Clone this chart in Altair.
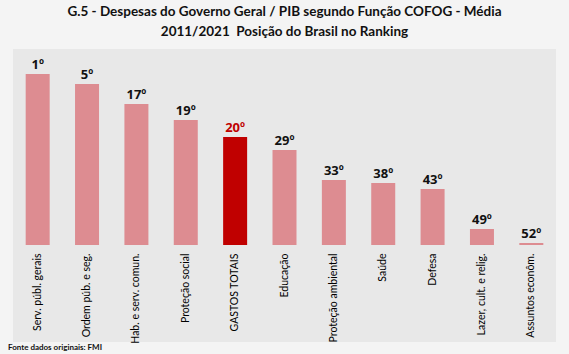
import altair as alt
import pandas as pd

categories = ["Serv. públ. gerais", "Ordem púb. e seg.", "Hab. e serv. comun.", "Proteção social",
              "GASTOS TOTAIS", "Educação", "Proteção ambiental", "Saúde", "Defesa",
              "Lazer, cult. e relig.", "Assuntos econôm."]
values = [171, 161, 141, 125, 108, 95, 65, 62, 56, 16, 2]
ranks = ["1º", "5º", "17º", "19º", "20º", "29º", "33º", "38º", "43º", "49º", "52º"]
highlight = [False, False, False, False, True, False, False, False, False, False, False]

df = pd.DataFrame({"cat": categories, "val": values, "rank": ranks, "hl": highlight})

W, H = 543, 196
FONT = "Lato"

xaxis = alt.Axis(labelAngle=-90, labelFont=FONT, labelFontSize=10.5, labelColor="#000000",
                 labelPadding=8, ticks=False, domain=False, labelLimit=200, zindex=2)
xenc = alt.X("cat:N", sort=categories, title=None,
             scale=alt.Scale(paddingInner=0.5, paddingOuter=0.25), axis=xaxis)
yenc = alt.Y("val:Q", title=None, scale=alt.Scale(domain=[0, 196]), axis=None)

panel = alt.Chart(pd.DataFrame({"a": [0]})).mark_rect(color="#e8e8e8").encode(
    x=alt.value(0), x2=alt.value(W), y=alt.value(0), y2=alt.value(H + 97))

base = alt.Chart(df)
bars = base.mark_bar(size=24).encode(
    x=xenc, y=yenc,
    color=alt.condition("datum.hl", alt.value("#c00000"), alt.value("#dd8c91")))
labels = base.mark_text(dy=-9, fontWeight="bold", fontSize=13, font="Open Sans").encode(
    x=xenc, y=yenc, text="rank:N",
    color=alt.condition("datum.hl", alt.value("#c00000"), alt.value("#111111")))

footer = alt.Chart(pd.DataFrame({"t": ["Fonte dados originais: FMI"]})).mark_text(
    align="left", baseline="middle", fontSize=8, fontWeight="bold", font=FONT, color="#111111").encode(
    x=alt.value(-5), y=alt.value(H + 103), text="t:N")

chart = alt.layer(panel, bars, labels, footer).properties(
    width=W, height=H,
    autosize=alt.AutoSizeParams(type="none"),
    padding={"left": 13, "top": 49, "right": 13, "bottom": 109},
    background="#f4f4f4",
    title=alt.TitleParams(
        text=["G.5 - Despesas do Governo Geral / PIB segundo Função COFOG - Média",
              "2011/2021\u00a0\u00a0Posição do Brasil no Ranking"],
        font=FONT, fontSize=13.5, fontWeight="bold", color="#111111", anchor="middle",
        lineHeight=20, offset=11),
).configure_view(stroke=None, fill="#e8e8e8")

chart.save("out.html", embed_options={"renderer": "svg", "actions": False})
